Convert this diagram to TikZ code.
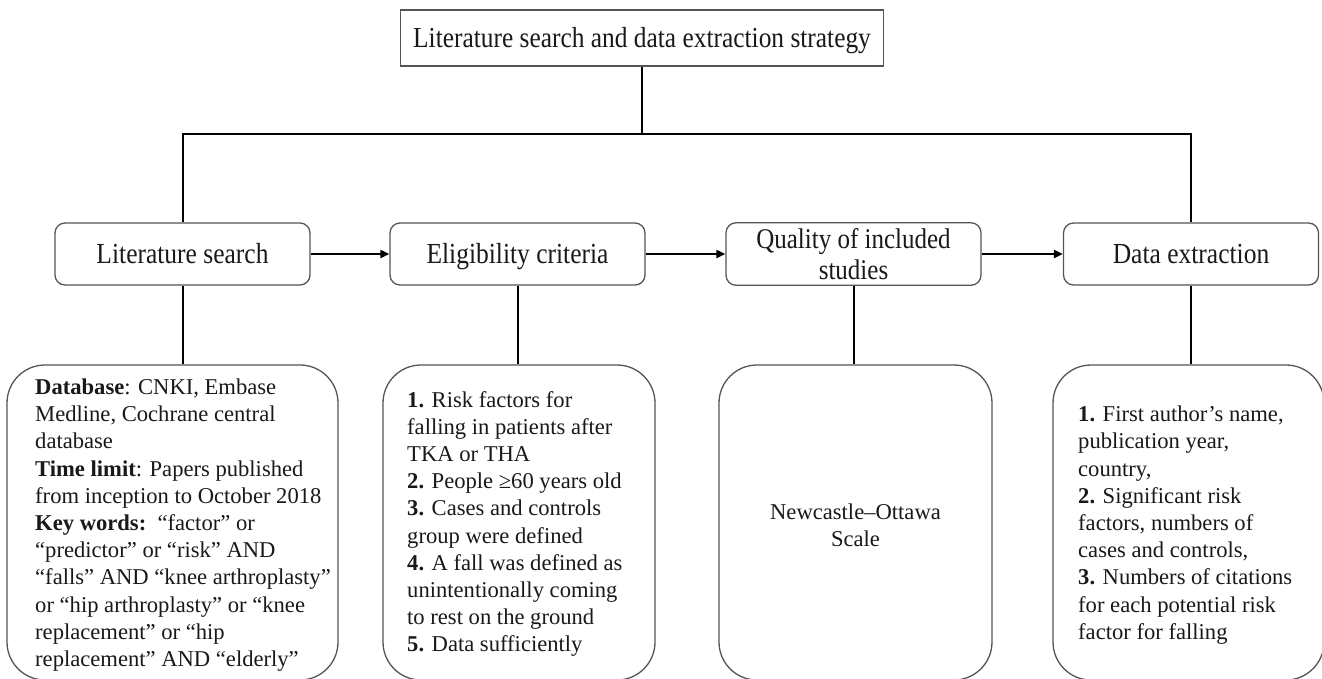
\documentclass[tikz,border=0pt]{standalone}
\usepackage{fontspec}
\setmainfont{Liberation Serif}
\usetikzlibrary{arrows.meta}
\definecolor{boxgray}{RGB}{85,85,85}
\definecolor{inkc}{RGB}{25,25,25}
\newcommand{\talltext}[1]{\raisebox{-3.5pt}[\height][\depth]{\scalebox{1}[1.14]{\begin{tabular}{@{}c@{}}#1\end{tabular}}}}
\begin{document}
\begin{tikzpicture}[x=1pt,y=-1pt,
  box/.style={draw=boxgray, line width=1.3pt, fill=white, text=inkc},
  rowbox/.style={box, rounded corners=10pt, minimum width=255pt, minimum height=62pt, inner sep=0pt, font=\fontsize{25.5}{27}\selectfont, align=center},
  bigbox/.style={box, rounded corners=38pt, minimum height=315pt, inner sep=0pt},
  body/.style={font=\fontsize{22.6}{27.2}\selectfont, align=left, inner sep=0pt, anchor=west, text=inkc},
  link/.style={line width=2pt, black},
  arr/.style={link, -{Triangle[length=9pt,width=8pt]}}]
\useasboundingbox (0,0) rectangle (1322,678);
\fill[white] (0,0) rectangle (1322,678);

\node[box, minimum width=483pt, minimum height=56pt, inner sep=0pt, font=\fontsize{25.4}{27}\selectfont] (title) at (642,38) {\talltext{Literature search and data extraction strategy}};

\node[rowbox] (ls) at (182.5,254) {\talltext{Literature search}};
\node[rowbox] (el) at (517.5,254) {\talltext{Eligibility criteria}};
\node[rowbox, font=\fontsize{25}{27.4}\selectfont] (qu) at (853.5,254) {\talltext{Quality of included\\studies}};
\node[rowbox] (de) at (1191,254) {\talltext{Data extraction}};

\node[bigbox, minimum width=331pt] (b1) at (172.5,522.5) {};
\node[bigbox, minimum width=272pt] (b2) at (519,522.5) {};
\node[bigbox, minimum width=273pt] (b3) at (855.5,522.5) {};
\node[bigbox, minimum width=271pt] (b4) at (1188.5,522.5) {};

\node[body] (b1t) at (35,525) {\textbf{Database}: CNKI, Embase\\Medline, Cochrane central\\database\\\textbf{Time limit}: Papers published\\from inception to October 2018\\\textbf{Key words:}\ \ “factor” or\\“predictor” or “risk” AND\\“falls” AND “knee arthroplasty”\\or “hip arthroplasty” or “knee\\replacement” or “hip\\replacement” AND “elderly”};
\node[body] (b2t) at (407,524) {\textbf{1.} Risk factors for\\falling in patients after\\TKA or THA\\\textbf{2.} People ≥60 years old\\\textbf{3.} Cases and controls\\group were defined\\\textbf{4.} A fall was defined as\\unintentionally coming\\to rest on the ground\\\textbf{5.} Data sufficiently};
\node[body, anchor=center, align=center] (b3t) at (855.5,525) {Newcastle–Ottawa\\Scale};
\node[body] (b4t) at (1078,525) {\textbf{1.} First author’s name,\\publication year,\\country,\\\textbf{2.} Significant risk\\factors, numbers of\\cases and controls,\\\textbf{3.} Numbers of citations\\for each potential risk\\factor for falling};

\coordinate (j) at ([yshift=-67pt]title.south);
\draw[link] (title.south) -- (j);
\draw[link] (ls.north) |- (j) -| (de.north);

\draw[arr] (ls) -- (el);
\draw[arr] (el) -- (qu);
\draw[arr] (qu) -- (de);

\draw[link] (ls.south) -- (ls.south |- b1.north);
\draw[link] (el.south) -- (el.south |- b2.north);
\draw[link] (qu.south) -- (qu.south |- b3.north);
\draw[link] (de.south) -- (de.south |- b4.north);
\end{tikzpicture}
\end{document}
